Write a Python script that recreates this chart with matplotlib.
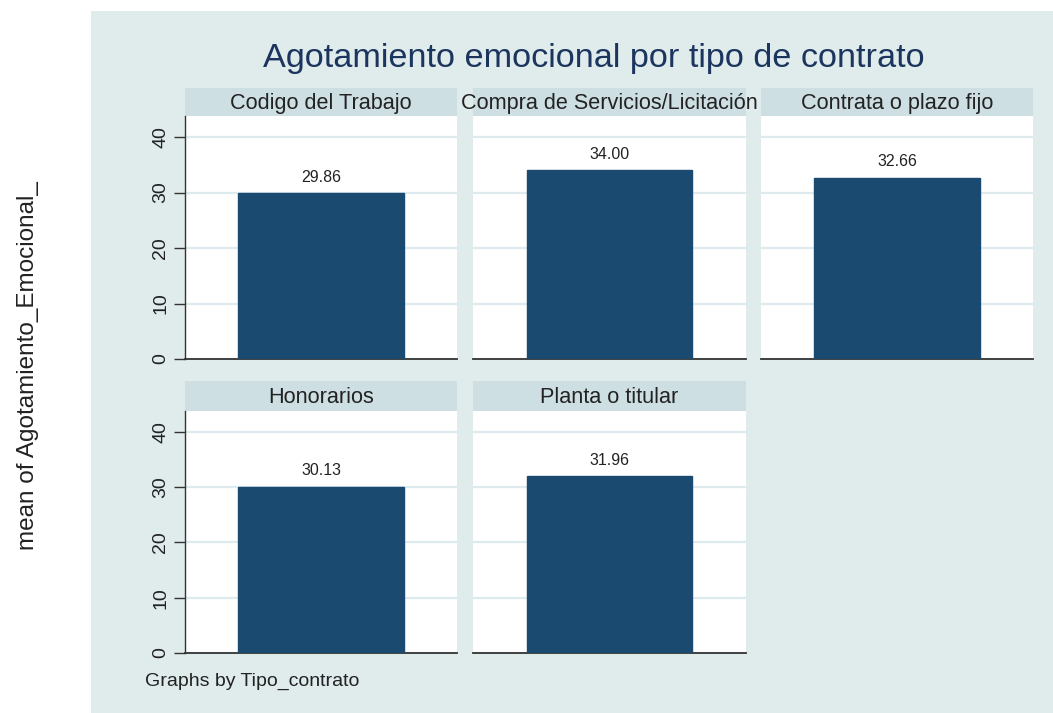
import matplotlib
matplotlib.use('Agg')
import matplotlib.pyplot as plt
from matplotlib.patches import Rectangle

plt.rcParams['font.family'] = ['Liberation Sans', 'DejaVu Sans']

# datos: media de Agotamiento_Emocional_ por tipo de contrato
categorias = ["Codigo del Trabajo", "Compra de Servicios/Licitación",
              "Contrata o plazo fijo", "Honorarios", "Planta o titular"]
medias = [29.86, 34.00, 32.66, 30.13, 31.96]
yticks = [0, 10, 20, 30, 40]

W, H = 1053, 713
fondo = '#E0ECEC'
franja = '#CEDFE4'
azul = '#1A4A70'
texto = '#222222'

fig = plt.figure(figsize=(W / 100, H / 100), dpi=100, facecolor='white')
fig.patches.append(Rectangle((91 / W, 0), (W - 91) / W, (H - 11) / H,
                             transform=fig.transFigure, facecolor=fondo,
                             edgecolor='none', zorder=-10))


def caja(x0, y0, x1, y1):
    # pixeles (origen arriba a la izquierda) -> fraccion de figura
    return [x0 / W, 1 - y1 / H, (x1 - x0) / W, (y1 - y0) / H]


columnas = [(185, 457), (473, 746), (761, 1033)]
filas = [((88, 116), (116, 359)), ((381, 411), (411, 653))]

for i, (cat, val) in enumerate(zip(categorias, medias)):
    fila, col = divmod(i, 3)
    (s0, s1), (a0, a1) = filas[fila]
    x0, x1 = columnas[col]

    # franja con el titulo del panel
    sax = fig.add_axes(caja(x0, s0, x1, s1))
    sax.set_facecolor(franja)
    sax.set_xticks([])
    sax.set_yticks([])
    for s in sax.spines.values():
        s.set_visible(False)
    sax.text(0.5, 0.45, cat, ha='center', va='center', fontsize=15.6,
             color=texto, clip_on=False)

    ax = fig.add_axes(caja(x0, a0, x1, a1))
    ax.set_facecolor('white')
    ax.bar([0], [val], width=0.607, color=azul, edgecolor=azul, zorder=3)
    ax.annotate(f'{val:.2f}', (0, val), xytext=(0, 6), textcoords='offset points',
                ha='center', va='bottom', fontsize=11.5, color=texto)
    ax.set_xlim(-0.5, 0.5)
    ax.set_ylim(0, 43.8)
    ax.set_xticks([])
    ax.set_yticks(yticks)
    ax.yaxis.grid(True, color='#DDEBEE', linewidth=1.6, zorder=0)
    ax.set_axisbelow(True)
    for s in ['top', 'right']:
        ax.spines[s].set_visible(False)
    ax.spines['bottom'].set_color('#333333')
    ax.spines['bottom'].set_linewidth(1.3)
    if col == 0:
        ax.spines['left'].set_color('#333333')
        ax.spines['left'].set_linewidth(1.0)
        ax.tick_params(axis='y', length=8, width=1, color='#333333',
                       labelsize=14, labelcolor=texto, labelrotation=90, pad=3.5)
        for lab in ax.get_yticklabels():
            lab.set_va('center')
    else:
        ax.spines['left'].set_visible(False)
        ax.tick_params(axis='y', left=False, labelleft=False)

fig.text(594 / W, 1 - 67 / H, 'Agotamiento emocional por tipo de contrato',
         ha='center', va='baseline', fontsize=24.7, color='#1C355E')
fig.text(28 / W, 1 - 366 / H, 'mean of Agotamiento_Emocional_', rotation=90,
         ha='center', va='center', fontsize=17.5, color=texto)
fig.text(145 / W, 1 - 686 / H, 'Graphs by Tipo_contrato', ha='left',
         va='baseline', fontsize=14, color=texto)

fig.savefig('out.png', dpi=100, facecolor='white')
